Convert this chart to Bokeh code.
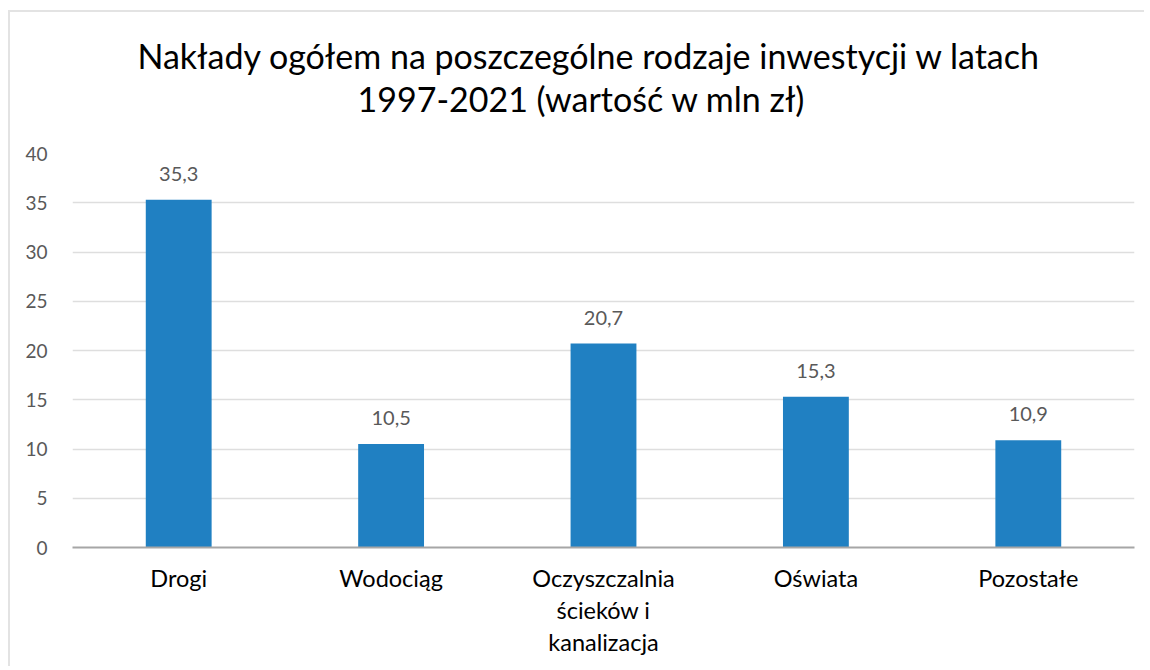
from bokeh.plotting import figure
from bokeh.models import ColumnDataSource, FixedTicker, Range1d, FactorRange, Title
from bokeh.embed import file_html
from bokeh.resources import INLINE
from bokeh.core.properties import value

categories = ["Drogi", "Wodociąg", "Oczyszczalnia\nścieków i\nkanalizacja", "Oświata", "Pozostałe"]
values = [35.3, 10.5, 20.7, 15.3, 10.9]
value_labels = ["35,3", "10,5", "20,7", "15,3", "10,9"]
y_ticks = [0, 5, 10, 15, 20, 25, 30, 35, 40]
title_line1 = "Nakłady ogółem na poszczególne rodzaje inwestycji w latach"
title_line2 = "1997-2021 (wartość w mln zł)"

FONT = "Lato"
BAR = "#2080C2"
GRAY = "#595959"

src = ColumnDataSource(dict(cat=categories, val=values, lab=value_labels))

p = figure(x_range=FactorRange(*categories, range_padding=0), y_range=Range1d(0, 40),
           width=1136, height=656, output_backend="svg", toolbar_location=None,
           min_border_left=62, min_border_right=12, min_border_top=141, min_border_bottom=121,
           styles={"border-left": "2px solid #e3e3e3", "border-top": "2px solid #e3e3e3",
                   "margin-left": "8px", "margin-top": "10px"})

p.title.text = ""
p.title.standoff = 0
t2 = Title(text=title_line2, align="left", text_font=FONT, text_font_size="34px",
           text_font_style="normal", text_color="#000000", standoff=70, offset=285)
t1 = Title(text=title_line1, align="left", text_font=FONT, text_font_size="34px",
           text_font_style="normal", text_color="#000000", standoff=-70, offset=65)
p.add_layout(t2, "above")
p.add_layout(t1, "above")

p.vbar(x="cat", top="val", width=0.31, source=src, fill_color=BAR, line_color=None)
p.text(x="cat", y="val", text="lab", source=src, text_align="center", text_baseline="bottom",
       y_offset=-19, text_font=value(FONT), text_font_size="20px", text_color=GRAY)

p.outline_line_color = None
p.xgrid.grid_line_color = None
p.ygrid.grid_line_color = "#dedede"
p.ygrid.grid_line_width = 1.5
p.yaxis.ticker = FixedTicker(ticks=y_ticks)
p.yaxis.axis_line_color = None
p.yaxis.major_tick_line_color = None
p.yaxis.minor_tick_line_color = None
p.yaxis.major_label_text_font = FONT
p.yaxis.major_label_text_font_size = "19px"
p.yaxis.major_label_text_color = GRAY
p.yaxis.major_label_standoff = 19

p.xaxis.axis_line_color = "#a6a6a6"
p.xaxis.axis_line_width = 2
p.xaxis.major_tick_line_color = None
p.xaxis.minor_tick_line_color = None
p.xaxis.major_label_text_font = FONT
p.xaxis.major_label_text_font_size = "23.5px"
p.xaxis.major_label_text_color = "#000000"
p.xaxis.major_label_text_line_height = 1.15
p.xaxis.major_label_standoff = 10

open("out.html", "w").write(file_html(p, INLINE))
